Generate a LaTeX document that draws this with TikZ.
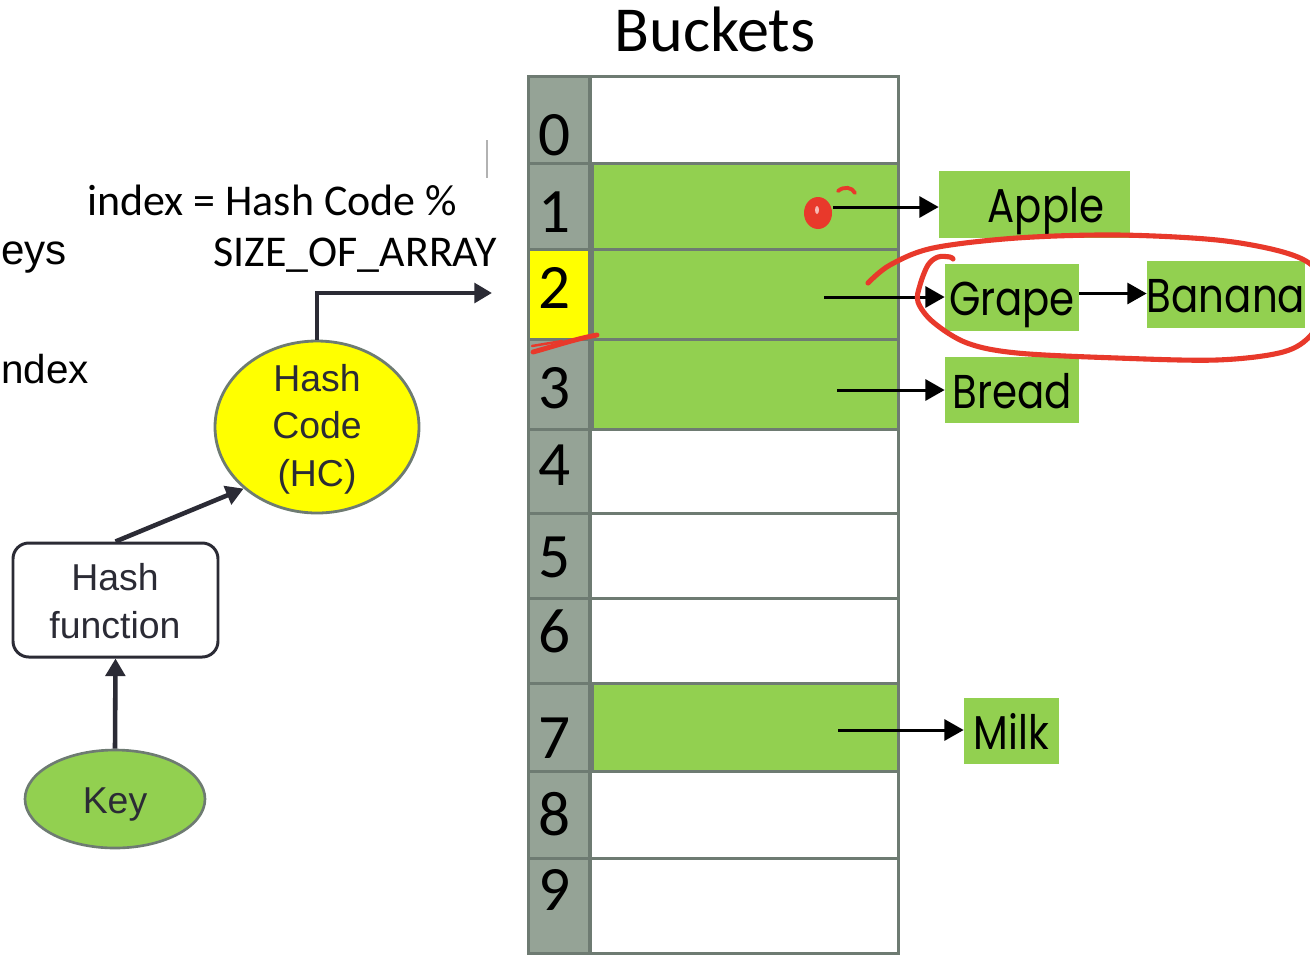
\documentclass[tikz,border=0pt]{standalone}
\usepackage{fontspec}
\setmainfont{Carlito}
\newfontfamily\arialfont{Liberation Sans}
\newfontfamily\handfont[FakeStretch=0.85]{Poppins}
\usetikzlibrary{arrows.meta,shapes.geometric}

\definecolor{cellgrey}{HTML}{95A396}
\definecolor{rulegrey}{HTML}{6E7B72}
\definecolor{leafgreen}{HTML}{92D050}
\definecolor{hiyellow}{HTML}{FFFF00}
\definecolor{inkdark}{HTML}{2B2B35}
\definecolor{penred}{HTML}{E8392B}

\tikzset{
  idxcell/.style={draw=rulegrey, line width=1.8pt, inner sep=0pt, minimum width=61*0.02cm},
  valcell/.style={draw=rulegrey, line width=1.8pt, inner sep=0pt, minimum width=308*0.02cm},
  digit/.style={font=\fontsize{36pt}{40pt}\selectfont, text=black, inner sep=0pt},
  flow/.style={draw=inkdark, line width=2.6pt, -{Triangle[length=10pt,width=11pt]}},
  ptr/.style={draw=black, line width=1.7pt, -{Triangle[length=11pt,width=12pt]}},
  item/.style={fill=leafgreen, inner sep=0pt, text=black, text depth=0pt, text height=0.72cm,
    font=\fontsize{27pt}{30pt}\handfont},
  sans/.style={font=\fontsize{21.3pt}{27pt}\arialfont, text=inkdark, align=center, inner sep=0pt},
  pen/.style={draw=penred, line cap=round, line join=round},
}

\begin{document}
\begin{tikzpicture}[x=0.02cm, y=-0.02cm]
\useasboundingbox (0,0) rectangle (1310,954);
\fill[white] (0,0) rectangle (1310,954);

\begin{scope}
\clip (0,0) rectangle (1310,954);

% title and formula
\node[font=\fontsize{36.5pt}{40pt}\selectfont, anchor=base, inner sep=0pt] (title) at (715,51) {Buckets};
\node[font=\fontsize{25pt}{30pt}\selectfont, anchor=base west, inner sep=0pt] (formula1) at (87,215) {index = Hash Code \%};
\node[font=\fontsize{25pt}{30pt}\selectfont, anchor=base east, inner sep=0pt] (formula2) at (497,266) {SIZE\_OF\_ARRAY};
\draw[gray!60, line width=0.6pt] (487,140) -- (487,178);

% side words
\node[font=\fontsize{24pt}{30pt}\arialfont, anchor=base west, inner sep=0pt] (keysword) at (1,264) {eys};
\node[font=\fontsize{23pt}{30pt}\arialfont, anchor=base west, inner sep=0pt] (indexword) at (1,383) {ndex};

% bucket array
\foreach \i/\t/\b/\f/\g in {0/75/162/white/cellgrey, 1/162/248/leafgreen/cellgrey,
    2/248/338/leafgreen/hiyellow, 3/338/428/leafgreen/cellgrey, 4/428/512/white/cellgrey,
    5/512/597/white/cellgrey, 6/597/682/white/cellgrey, 7/682/770/leafgreen/cellgrey,
    8/770/857/white/cellgrey, 9/857/952/white/cellgrey}{
  \node[idxcell, fill=\g, minimum height={(\b-\t)*0.02cm}, anchor=north west] (i\i) at (527,\t) {};
  \node[valcell, fill=\f, minimum height={(\b-\t)*0.02cm}, anchor=north west] (v\i) at (589,\t) {};
}
% darker strip between the index column and the filled buckets
\foreach \i in {1,2,3,7}{
  \fill[rulegrey] (v\i.north west) rectangle ([xshift=0.1cm]v\i.south west);
}
\foreach \i/\y in {0/155,1/232,2/308,3/408,4/485,5/577,6/652,7/758,8/835,9/910}{
  \node[digit, anchor=base] (d\i) at (555,\y) {\i};
}

% hashing pipeline
\node[ellipse, draw=rulegrey, fill=leafgreen, line width=1.5pt, minimum width=180*0.02cm,
  minimum height=98*0.02cm, inner sep=0pt] (key) at (115,799) {};
\node[sans, anchor=base] (keytext) at (115,813) {Key};
\node[draw=inkdark, line width=1.7pt, rounded corners=9pt, fill=white,
  minimum width=205*0.02cm, minimum height=114*0.02cm, inner sep=0pt] (hf) at (115.5,600) {};
\node[sans, anchor=base] (hftext) at (115,638) {Hash\\function};
\node[ellipse, draw=rulegrey, fill=hiyellow, line width=1.6pt, minimum width=204*0.02cm,
  minimum height=172*0.02cm, inner sep=0pt] (hc) at (317,427) {};
\node[sans, anchor=base] (hctext) at (317,486) {Hash\\Code\\(HC)};
\coordinate (hcout) at (492,293);

\draw[flow] (key.north) -- (hf.south);
\draw[flow] (hf.north) -- (hc.220);
\draw[flow] (hc.north) |- (hcout);

% chained entries
\node[item, minimum width=191*0.02cm, minimum height=67*0.02cm] (apple) at (1034.5,204.5) {\hspace*{13pt}Apple};
\node[item, minimum width=134*0.02cm, minimum height=67*0.02cm] (grape) at (1012,297.5) {Grape};
\node[item, minimum width=156*0.02cm, minimum height=67*0.02cm] (banana) at (1226,294.5) {Banana};
\node[item, minimum width=134*0.02cm, minimum height=66*0.02cm] (bread) at (1012,390) {Bread};
\node[item, minimum width=95*0.02cm, minimum height=66*0.02cm] (milk) at (1011.5,731) {Milk};

\coordinate (t1) at (833,207);
\coordinate (t2) at (824,297);
\coordinate (t3) at (837,390);
\coordinate (t7) at (838,730);
\draw[ptr] (t1) -- (t1 -| apple.west);
\draw[ptr] (t2) -- (t2 -| grape.west);
\draw[ptr] ([yshift=0.08cm]grape.east) -- ([yshift=0.08cm]grape.east -| banana.west);
\draw[ptr] (t3) -- (t3 -| bread.west);
\draw[ptr] (t7) -- (t7 -| milk.west);

% red pen marks
\fill[penred] (818,213) ellipse [x radius=14, y radius=16];
\fill[penred!35] (817,210) ellipse [x radius=2, y radius=4];
\draw[pen, line width=2.2pt] (838,191) .. controls (844,186) and (852,187) .. (855,193);
\draw[pen, line width=2.8pt] (533,352) .. controls (555,346) and (575,339) .. (597,335);
\draw[pen, line width=1.4pt] (532,346) -- (562,341);
\draw[pen, line width=2.9pt] plot[smooth, tension=0.55] coordinates {
  (868,283) (890,265) (933,248) (1017,238) (1117,235) (1217,240) (1283,252) (1315,268)
  (1330,300) (1312,334) (1283,352) (1217,360) (1117,358) (1017,353) (967,343)
  (933,322) (918,302) (920,285) (928,265) (938,257) (950,257) (953,259)};
\end{scope}
\end{tikzpicture}
\end{document}
